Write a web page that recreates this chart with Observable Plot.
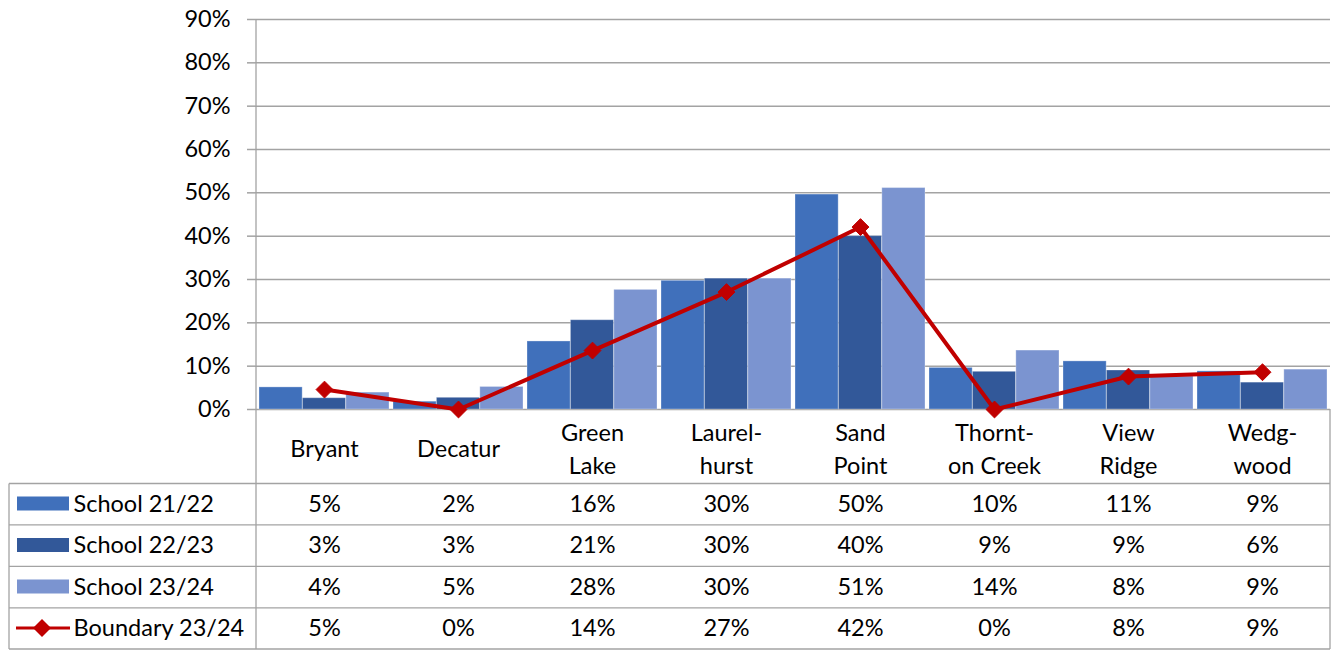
<!DOCTYPE html>
<html>
<head>
<meta charset="utf-8">
<script src="https://cdn.jsdelivr.net/npm/d3@7"></script>
<script src="https://cdn.jsdelivr.net/npm/@observablehq/plot@0.6"></script>
<style>
  html, body { margin: 0; padding: 0; background: #fff; }
  #chart svg { display: block; }
</style>
</head>
<body>
<div id="chart"></div>
<script>
// ---- data ----
const categories = ["Bryant", "Decatur", "Green Lake", "Laurelhurst", "Sand Point", "Thornton Creek", "View Ridge", "Wedgwood"];
const categoryLabels = ["Bryant", "Decatur", "Green\nLake", "Laurel-\nhurst", "Sand\nPoint", "Thornt-\non Creek", "View\nRidge", "Wedg-\nwood"];
const seriesNames = ["School 21/22", "School 22/23", "School 23/24", "Boundary 23/24"];
const school2122 = [0.051, 0.018, 0.157, 0.297, 0.496, 0.096, 0.111, 0.088];
const school2223 = [0.026, 0.027, 0.206, 0.302, 0.400, 0.087, 0.090, 0.062];
const school2324 = [0.039, 0.052, 0.276, 0.302, 0.511, 0.136, 0.076, 0.092];
const boundary2324 = [0.046, 0.0, 0.136, 0.271, 0.421, 0.0, 0.076, 0.086];
const yTicks = [0, 0.1, 0.2, 0.3, 0.4, 0.5, 0.6, 0.7, 0.8, 0.9];

// ---- style ----
const barColors = ["#4070BB", "#325899", "#7B94D0"];
const lineColor = "#C00000";
const gridColor = "#A3A3A3";
const fmt = d3.format(".0%");
const FS = 23.5;

const W = 1336, H = 650;
const mL = 256, mR = 6, mT = 19, mB = 241;
const band = (W - mL - mR) / categories.length;
const gap = 2;
const barW = (band - 2 * gap) / 3;

const barSeries = [school2122, school2223, school2324];
const allSeries = [school2122, school2223, school2324, boundary2324];
const rowDy = [94.5, 136, 177.5, 219];

const barMarks = barSeries.map((vals, j) =>
  Plot.barY(categories.map((c, i) => ({c, v: vals[i]})), {
    x: "c", y: "v", fill: barColors[j],
    stroke: "#ffffff", strokeOpacity: 0.3, strokeWidth: 1,
    insetLeft: gap + j * barW,
    insetRight: band - gap - (j + 1) * barW
  })
);

const lineData = categories.map((c, i) => ({c, v: boundary2324[i]}));

const tableMarks = allSeries.map((vals, r) =>
  Plot.text(categories, {
    x: d => d, text: (d, i) => fmt(vals[i]),
    frameAnchor: "bottom", dy: rowDy[r], lineAnchor: "middle",
    fill: "#000", fontSize: FS
  })
);

const legendLabelMarks = seriesNames.map((name, r) =>
  Plot.text([name], {
    text: d => d, frameAnchor: "bottom-left", dx: -183, dy: rowDy[r],
    textAnchor: "start", lineAnchor: "middle", fill: "#000", fontSize: FS
  })
);

// custom mark: table borders and legend keys
function tableFrame(index, scales, values, dims) {
  const g = d3.create("svg:g");
  const left = 9, right = dims.width - dims.marginRight;
  const top = dims.height - dims.marginBottom;
  const bottom = dims.height - 1;
  const rowLines = [483.5, 524.8, 566.3, 607.8, bottom];
  const s = {stroke: gridColor, "stroke-width": 1.3, fill: "none"};
  const line = (x1, y1, x2, y2) => {
    const l = g.append("line").attr("x1", x1).attr("y1", y1).attr("x2", x2).attr("y2", y2);
    for (const k in s) l.attr(k, s[k]);
  };
  rowLines.forEach(y => line(left, y, right, y));
  line(left, rowLines[0], left, bottom);
  line(dims.marginLeft, dims.marginTop, dims.marginLeft, bottom);
  line(right, top, right, bottom);
  // legend keys
  const cy = rowDy.map(d => top + d);
  barColors.forEach((c, j) => {
    g.append("rect").attr("x", 17).attr("y", cy[j] - 7).attr("width", 52).attr("height", 14).attr("fill", c);
  });
  g.append("line").attr("x1", 16).attr("x2", 70).attr("y1", cy[3]).attr("y2", cy[3])
    .attr("stroke", lineColor).attr("stroke-width", 3);
  g.append("path").attr("d", `M42,${cy[3] - 9}L51,${cy[3]}L42,${cy[3] + 9}L33,${cy[3]}Z`).attr("fill", lineColor);
  return g.node();
}

const chart = Plot.plot({
  width: W, height: H,
  marginLeft: mL, marginRight: mR, marginTop: mT, marginBottom: mB,
  style: {fontFamily: "Lato, 'Open Sans', sans-serif", fontSize: FS + "px", color: "#000", background: "#fff", overflow: "visible"},
  x: {domain: categories, padding: 0, axis: null},
  y: {domain: [0, 0.9], axis: null},
  marks: [
    Plot.gridY(yTicks, {stroke: gridColor, strokeOpacity: 1, strokeWidth: 1.5}),
    Plot.axisY(yTicks, {label: null, tickFormat: fmt, tickSize: 9, tickPadding: 17, stroke: gridColor, strokeWidth: 1.5, strokeOpacity: 1, fill: "#000", fontSize: FS}),
    ...barMarks,
    tableFrame,
    Plot.line(lineData, {x: "c", y: "v", stroke: lineColor, strokeWidth: 4}),
    Plot.dot(lineData, {x: "c", y: "v", symbol: "diamond2", r: 7.6, fill: lineColor, stroke: lineColor, strokeWidth: 1}),
    Plot.text(categories, {
      x: d => d, text: (d, i) => categoryLabels[i],
      frameAnchor: "bottom", dy: 37, lineAnchor: "middle", lineHeight: 1.42, fill: "#000", fontSize: FS
    }),
    ...tableMarks,
    ...legendLabelMarks
  ]
});
document.getElementById("chart").appendChild(chart);
</script>
</body>
</html>
